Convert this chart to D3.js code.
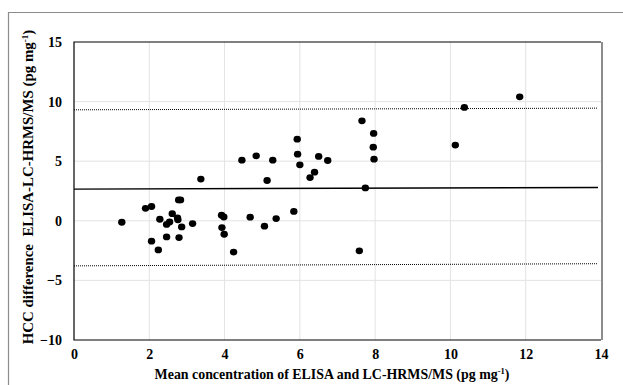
<!DOCTYPE html>
<html>
<head>
<meta charset="utf-8">
<script src="https://cdn.jsdelivr.net/npm/d3@7"></script>
<style>
  body { margin: 0; background: #fff; }
  svg text { font-family: "Liberation Serif", "DejaVu Serif", serif !important; font-weight: bold !important; fill: #000; }
</style>
</head>
<body>
<div id="chart"></div>
<script>
// Bland-Altman points: mean concentration vs difference
const meanConc = [1.27, 1.90, 2.06, 2.06, 2.24, 2.28, 2.46, 2.46, 2.54, 2.61, 2.75, 2.76, 2.78, 2.83, 2.79, 2.86,
  3.15, 3.37, 3.92, 3.98, 3.93, 3.99, 4.24, 4.46, 4.68, 4.84, 5.06, 5.13, 5.28, 5.37, 5.84, 5.93, 5.94, 6.00,
  6.27, 6.39, 6.50, 6.74, 7.58, 7.65, 7.74, 7.96, 7.95, 7.97, 10.13, 10.37, 11.84];
const diffConc = [-0.12, 1.05, 1.20, -1.71, -2.44, 0.13, -0.30, -1.35, -0.10, 0.60, 0.25, 0.08, 1.75, 1.75, -1.41, -0.51,
  -0.23, 3.50, 0.47, 0.32, -0.57, -1.13, -2.62, 5.09, 0.30, 5.45, -0.45, 3.38, 5.09, 0.19, 0.79, 6.85, 5.59, 4.70,
  3.63, 4.08, 5.40, 5.06, -2.52, 8.39, 2.76, 7.33, 6.18, 5.17, 6.35, 9.51, 10.40];
const xTicks = [0, 2, 4, 6, 8, 10, 12, 14];
const yTicks = [-10, -5, 0, 5, 10, 15];
// reference lines: [value at x=0, value at x=14]
const biasLine = [2.66, 2.79];
const upperLoA = [9.31, 9.45];
const lowerLoA = [-3.78, -3.60];

const width = 623, height = 385;
const margin = {top: 42, right: 22, bottom: 45, left: 74};

const svg = d3.select('#chart').append('svg')
  .attr('width', width)
  .attr('height', height);

// outer chart frame
svg.append('path')
  .attr('d', `M8.5,${height} V12.5 H${width}`)
  .attr('fill', 'none')
  .attr('stroke', '#8c8c8c')
  .attr('stroke-width', 1.2);

const x = d3.scaleLinear().domain([0, 14]).range([margin.left, width - margin.right]);
const y = d3.scaleLinear().domain([-10, 15]).range([height - margin.bottom, margin.top]);

// gridlines
svg.append('g')
  .selectAll('line')
  .data(xTicks.slice(1, -1))
  .enter().append('line')
  .attr('x1', d => x(d)).attr('x2', d => x(d))
  .attr('y1', y(15)).attr('y2', y(-10))
  .attr('stroke', '#e3e3e3');
svg.append('g')
  .selectAll('line')
  .data(yTicks.slice(1, -1))
  .enter().append('line')
  .attr('x1', x(0)).attr('x2', x(14))
  .attr('y1', d => y(d)).attr('y2', d => y(d))
  .attr('stroke', '#e3e3e3');

// plot area border
svg.append('path')
  .attr('d', `M${x(14)},${y(15)} H${x(0)} V${y(-10)} H${x(14)}`)
  .attr('fill', 'none')
  .attr('stroke', '#000')
  .attr('stroke-width', 1.2);
svg.append('line')
  .attr('x1', x(14) + 1).attr('x2', x(14) + 1)
  .attr('y1', y(15)).attr('y2', y(-10))
  .attr('stroke', '#8c8c8c')
  .attr('stroke-width', 2);

// axes labels (no tick marks)
const xAxis = svg.append('g')
  .attr('transform', `translate(0, ${y(-10)})`)
  .call(d3.axisBottom(x).tickValues(xTicks).tickSize(0).tickPadding(9));
const yAxis = svg.append('g')
  .attr('transform', `translate(${x(0)}, 0)`)
  .call(d3.axisLeft(y).tickValues(yTicks).tickSize(0).tickPadding(12));
[xAxis, yAxis].forEach(g => {
  g.attr('font-family', 'Liberation Serif').attr('font-size', 14).attr('font-weight', 'bold');
  g.select('.domain').remove();
  g.selectAll('text')
    .style('font-size', '14px')
    .attr('fill', '#000');
});

// reference lines
const refLine = (vals, dash) => svg.append('line')
  .attr('x1', x(0)).attr('x2', x(14) - 3)
  .attr('y1', y(vals[0])).attr('y2', y(vals[1]))
  .attr('stroke', '#000')
  .attr('stroke-width', dash ? 1 : 1.4)
  .attr('stroke-dasharray', dash ? '1,1' : null);
refLine(upperLoA, true);
refLine(lowerLoA, true);
refLine(biasLine, false);

// points
svg.append('g')
  .selectAll('ellipse')
  .data(meanConc.map((d, i) => [d, diffConc[i]]))
  .enter().append('ellipse')
  .attr('cx', d => x(d[0]))
  .attr('cy', d => y(d[1]))
  .attr('rx', 3.7)
  .attr('ry', 3.4)
  .attr('fill', '#000');

// axis titles
svg.append('text')
  .attr('x', 332)
  .attr('y', 379)
  .attr('text-anchor', 'middle')
  .style('font-size', '13.9px')
  .html('Mean concentration of ELISA and LC-HRMS/MS (pg mg<tspan dy="-5" font-size="8.5">-1</tspan><tspan dy="5">)</tspan>');

svg.append('text')
  .attr('transform', `translate(33, 187) rotate(-90)`)
  .attr('text-anchor', 'middle')
  .style('font-size', '14.9px')
  .style('white-space', 'pre')
  .html('HCC difference  ELISA-LC-HRMS/MS (pg mg<tspan dy="-5" font-size="9">-1</tspan><tspan dy="5">)</tspan>');
</script>
</body>
</html>
